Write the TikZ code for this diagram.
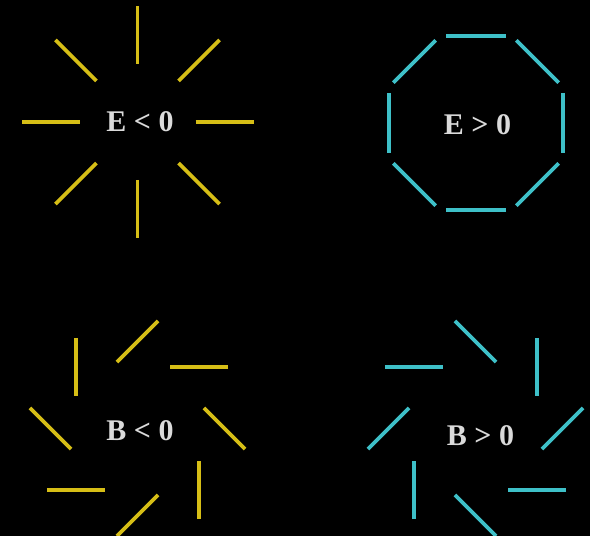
\documentclass[tikz,border=0pt]{standalone}
\usepackage{fontspec}
\setmainfont{Liberation Serif}
\usepackage{tikz}
\usetikzlibrary{positioning, calc}
\usepackage{xcolor}
\definecolor{negcolor}{RGB}{214,190,22}
\definecolor{poscolor}{RGB}{62,192,200}
\definecolor{signgray}{RGB}{218,218,218}

\begin{document}
\begin{tikzpicture}[
    x=0.5pt, y=0.5pt,
    stick/.style={line width=1.8pt},
    signtext/.style={font=\fontsize{15}{17}\selectfont\bfseries, text=signgray, inner sep=0pt}
]
\fill[black] (0,0) rectangle (590,536);
\useasboundingbox (0,0) rectangle (590,536);
\clip (0,0) rectangle (590,536);

\coordinate (eneg) at (137.5,414);
\coordinate (epos) at (476,413);
\coordinate (bneg) at (137.5,107.5);
\coordinate (bpos) at (475.5,107.5);

\node[signtext] (eneglabel) at ($(eneg)+(2.5,0)$) {E < 0};
\node[signtext] (eposlabel) at ($(epos)+(1.5,-2)$) {E > 0};
\node[signtext] (bneglabel) at ($(bneg)+(2.5,-2.5)$) {B < 0};
\node[signtext] (bposlabel) at ($(bpos)+(5,-7)$) {B > 0};

% E < 0 : radial
\foreach \a in {0,45,...,315}
  \draw[stick, negcolor] ($(eneg)+(\a:58)$) -- ($(eneg)+(\a:116)$);

% E > 0 : tangential
\foreach \a in {0,45,...,315}
  \draw[stick, poscolor] ($(epos)+(\a:87)+(\a+90:30)$) -- ($(epos)+(\a:87)+(\a-90:30)$);

% B < 0
\foreach \a in {0,45,...,315}
  \draw[stick, negcolor] ($(bneg)+(\a:87)+(\a-45:29)$) -- ($(bneg)+(\a:87)+(\a+135:29)$);

% B > 0
\foreach \a in {0,45,...,315}
  \draw[stick, poscolor] ($(bpos)+(\a:87)+(\a+45:29)$) -- ($(bpos)+(\a:87)+(\a-135:29)$);
\end{tikzpicture}
\end{document}
